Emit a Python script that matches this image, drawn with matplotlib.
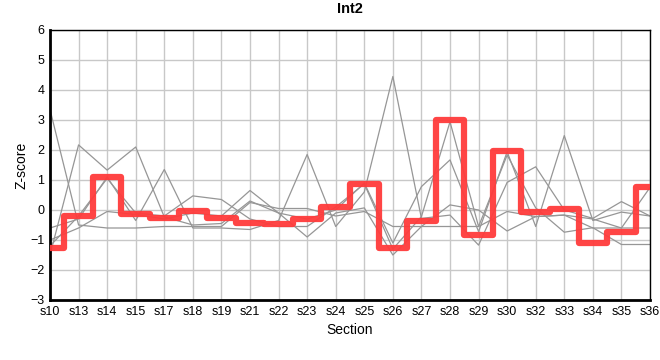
import matplotlib
matplotlib.use("Agg")
import matplotlib.pyplot as plt

sections = ["s10", "s13", "s14", "s15", "s17", "s18", "s19", "s21", "s22", "s23", "s24",
            "s25", "s26", "s27", "s28", "s29", "s30", "s32", "s33", "s34", "s35", "s36"]

int2 = [-1.25, -0.2, 1.1, -0.12, -0.27, -0.03, -0.25, -0.42, -0.45, -0.3, 0.1,
        0.87, -1.25, -0.35, 3.0, -0.82, 1.97, -0.05, 0.02, -1.1, -0.72, 0.77]

gray1 = [3.35, -0.5, -0.6, -0.6, -0.55, -0.55, -0.55, 0.25, 0.05, 0.05, -0.2,
         -0.05, -0.55, -0.55, -0.55, -0.55, -0.05, -0.22, -0.17, -0.6, -0.6, -0.6]
gray2 = [-1.5, 2.17, 1.33, 2.1, -0.23, -0.5, -0.45, 0.3, -0.1, -0.3, 0.0,
         0.9, -1.1, 0.78, 1.67, -0.72, 1.94, -0.55, 2.48, -0.35, -0.07, -0.2]
gray3 = [-0.6, -0.3, 1.1, -0.35, 1.35, -0.6, -0.6, -0.65, -0.35, 1.85, -0.55,
         0.6, 4.45, -0.28, -0.17, -1.17, 0.92, 1.44, 0.0, -0.28, 0.28, -0.2]
gray4 = [-1.2, -0.2, 1.05, -0.1, -0.2, 0.47, 0.35, -0.3, -0.55, -0.55, 0.1,
         0.87, -1.3, -0.22, 2.94, -0.55, 1.83, 0.07, -0.74, -0.59, -1.15, -1.15]
gray5 = [-1.0, -0.6, -0.05, -0.15, -0.3, -0.1, -0.2, 0.65, -0.1, -0.9, -0.1,
         0.07, -1.5, -0.55, 0.17, 0.0, -0.7, -0.22, -0.17, -0.3, -0.6, 0.75]
grays = [gray1, gray2, gray3, gray4, gray5]

yticks = [-3, -2, -1, 0, 1, 2, 3, 4, 5, 6]

plt.rcParams['font.family'] = ['Liberation Sans', 'DejaVu Sans']

fig = plt.figure(figsize=(6.6, 3.6), dpi=100)
ax = fig.add_axes([50/660, 60/360, 600/660, 270/360])

x = list(range(len(sections)))
for g in grays:
    ax.plot(x, g, color='#969696', linewidth=0.9, zorder=2)

ax.plot(x, int2, drawstyle='steps-mid', color='#ff3b3b', linewidth=4.5,
        solid_joinstyle='round', solid_capstyle='round', alpha=0.95, zorder=3)

ax.set_xlim(0, len(sections) - 1)
ax.set_ylim(-3, 6)
ax.set_xticks(x)
ax.set_xticklabels(sections)
ax.set_yticks(yticks)
ax.grid(True, color='#c8c8c8', linewidth=1)
ax.set_axisbelow(True)
ax.tick_params(axis='both', length=0, labelsize=9, pad=4)

for side in ['top', 'right']:
    ax.spines[side].set_linewidth(1)
for side in ['left', 'bottom']:
    ax.spines[side].set_linewidth(2)

ax.set_title("Int2", fontsize=10.5, fontweight='bold', pad=12)
ax.set_xlabel("Section", fontsize=10, labelpad=4)
ax.set_ylabel("Z-score", fontsize=10, labelpad=1)

fig.savefig("out.png", dpi=100)
